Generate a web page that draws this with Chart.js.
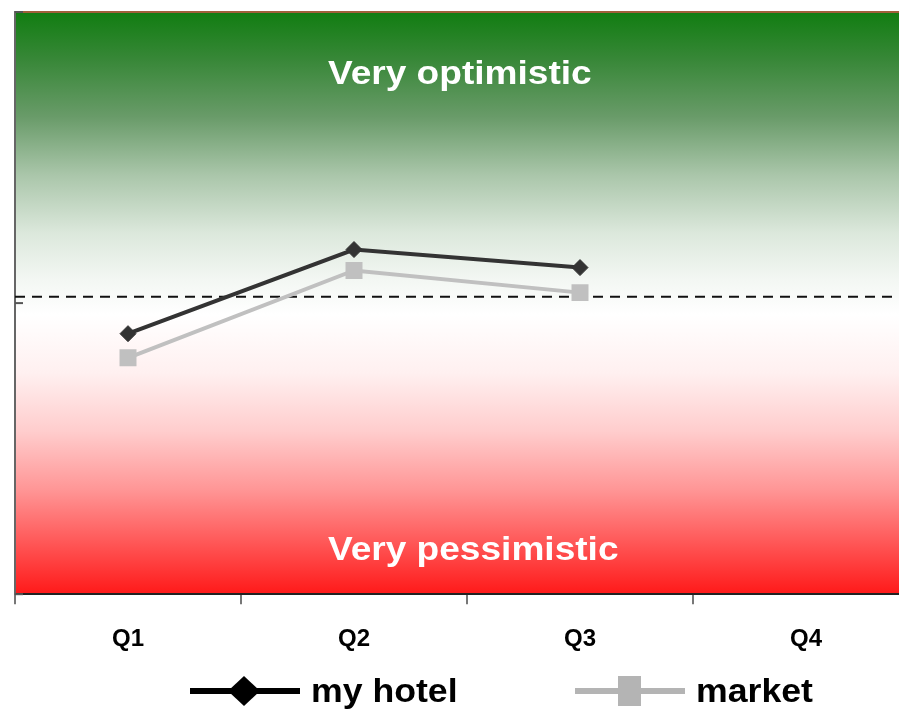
<!DOCTYPE html>
<html lang="en">
<head>
<meta charset="UTF-8" />
<title>Business outlook</title>
<script src="https://cdn.jsdelivr.net/npm/chart.js"></script>
<style>
  html, body { margin: 0; padding: 0; background: #fff; overflow: hidden; }
  .chart-wrap { width: 899px; height: 711px; overflow: hidden; }
  .chart-inner { width: 931px; height: 711px; }
</style>
</head>
<body>
<div class="chart-wrap">
  <div class="chart-inner">
    <canvas id="outlookChart" width="931" height="711" style="width:931px;height:711px"></canvas>
  </div>
</div>

<script>
  // quarters and sentiment scores (-100 very pessimistic .. 100 very optimistic)
  const quarters = ['Q1', 'Q2', 'Q3', 'Q4'];
  const hotelScores = [-10.5, 18.4, 12.2, null];
  const marketScores = [-18.8, 11.2, 3.6, null];
  const seriesNames = ['my hotel', 'market'];
  const neutralLine = 2.2;
  const scoreTicks = [-100, 0, 100];
  const bandLabels = ['Very optimistic', 'Very pessimistic'];

  const FONT = '"Liberation Sans", Arial, sans-serif';

  // green -> white -> red background behind the lines
  const bandBackground = {
    id: 'bandBackground',
    beforeDraw(chart) {
      const { ctx, chartArea: a } = chart;
      const g = ctx.createLinearGradient(0, a.top, 0, a.bottom);
      g.addColorStop(0.00, 'rgb(17,125,17)');
      g.addColorStop(0.08, 'rgb(55,135,55)');
      g.addColorStop(0.18, 'rgb(105,155,105)');
      g.addColorStop(0.28, 'rgb(170,198,170)');
      g.addColorStop(0.38, 'rgb(220,232,220)');
      g.addColorStop(0.46, 'rgb(243,247,243)');
      g.addColorStop(0.52, 'rgb(255,255,255)');
      g.addColorStop(0.62, 'rgb(255,240,240)');
      g.addColorStop(0.72, 'rgb(255,205,205)');
      g.addColorStop(0.82, 'rgb(255,150,150)');
      g.addColorStop(0.90, 'rgb(255,95,95)');
      g.addColorStop(1.00, 'rgb(255,25,25)');
      ctx.save();
      ctx.fillStyle = g;
      ctx.fillRect(a.left, a.top, a.right - a.left, a.bottom - a.top);
      ctx.restore();
    },
    beforeDatasetsDraw(chart) {
      const { ctx, chartArea: a, scales } = chart;
      const y = scales.y;
      ctx.save();

      // frame line along the top
      ctx.strokeStyle = '#a0603a';
      ctx.lineWidth = 2;
      ctx.beginPath();
      ctx.moveTo(a.left, a.top);
      ctx.lineTo(a.right, a.top);
      ctx.stroke();

      // short inner ticks on the value axis
      ctx.strokeStyle = '#555';
      ctx.lineWidth = 2;
      scoreTicks.forEach(v => {
        const py = y.getPixelForValue(v);
        ctx.beginPath();
        ctx.moveTo(a.left, py);
        ctx.lineTo(a.left + 8, py);
        ctx.stroke();
      });

      // neutral reference
      const ny = y.getPixelForValue(neutralLine);
      ctx.strokeStyle = '#111';
      ctx.lineWidth = 2;
      ctx.setLineDash([10, 7]);
      ctx.beginPath();
      ctx.moveTo(a.left, ny);
      ctx.lineTo(a.right, ny);
      ctx.stroke();
      ctx.setLineDash([]);

      // band captions
      ctx.fillStyle = '#fff';
      ctx.font = 'bold 34px ' + FONT;
      ctx.textBaseline = 'alphabetic';
      [[bandLabels[0], a.top + 72], [bandLabels[1], a.bottom - 34]].forEach(([t, py]) => {
        ctx.save();
        ctx.translate(a.left + 313, py);
        ctx.scale(1.09, 1);
        ctx.fillText(t, 0, 0);
        ctx.restore();
      });
      ctx.restore();
    }
  };

  // legend: line sample with marker, then the series name
  const lineLegend = {
    id: 'lineLegend',
    afterDraw(chart) {
      const { ctx } = chart;
      const items = [
        { x: 190, color: '#000', marker: 'diamond' },
        { x: 575, color: '#b4b4b4', marker: 'square' }
      ];
      const cy = 691;
      ctx.save();
      chart.data.datasets.forEach((ds, i) => {
        const it = items[i];
        ctx.strokeStyle = it.color;
        ctx.fillStyle = it.color;
        ctx.lineWidth = 6;
        ctx.beginPath();
        ctx.moveTo(it.x, cy);
        ctx.lineTo(it.x + 110, cy);
        ctx.stroke();
        const mx = it.x + 54;
        ctx.beginPath();
        if (it.marker === 'diamond') {
          ctx.moveTo(mx - 16, cy);
          ctx.lineTo(mx, cy - 15);
          ctx.lineTo(mx + 16, cy);
          ctx.lineTo(mx, cy + 15);
          ctx.closePath();
        } else {
          ctx.rect(mx - 11, cy - 15, 23, 30);
        }
        ctx.fill();

        ctx.fillStyle = '#000';
        ctx.font = 'bold 33px ' + FONT;
        ctx.textBaseline = 'alphabetic';
        ctx.save();
        ctx.translate(it.x + 121, cy + 11);
        ctx.scale(1.08, 1);
        ctx.fillText(ds.label, 0, 0);
        ctx.restore();
      });
      ctx.restore();
    }
  };

  const ctx = document.getElementById('outlookChart').getContext('2d');
  new Chart(ctx, {
    type: 'line',
    data: {
      labels: quarters,
      datasets: [
        {
          label: seriesNames[0],
          data: hotelScores,
          borderColor: '#333',
          backgroundColor: '#333',
          borderWidth: 4,
          pointStyle: 'rectRot',
          pointRadius: 8,
          pointBorderWidth: 1,
          tension: 0
        },
        {
          label: seriesNames[1],
          data: marketScores,
          borderColor: '#c0c0c0',
          backgroundColor: '#c0c0c0',
          borderWidth: 4,
          pointStyle: 'rect',
          pointRadius: 12,
          pointBorderWidth: 0,
          tension: 0
        }
      ]
    },
    options: {
      responsive: false,
      animation: false,
      layout: { padding: { top: 12, left: 15, right: 0, bottom: 36 } },
      plugins: {
        legend: { display: false },
        tooltip: { enabled: false }
      },
      scales: {
        x: {
          offset: true,
          grid: { offset: true, drawOnChartArea: false, tickLength: 10, color: '#777', lineWidth: 2 },
          border: { color: '#222', width: 2 },
          ticks: { color: '#000', padding: 21, font: { family: FONT, size: 24, weight: 'bold' } }
        },
        y: {
          min: -100,
          max: 100,
          ticks: { display: false },
          grid: { display: false },
          border: { color: '#666', width: 2 },
          afterFit(scale) { scale.width = 0; }
        }
      }
    },
    plugins: [bandBackground, lineLegend]
  });
</script>
</body>
</html>
